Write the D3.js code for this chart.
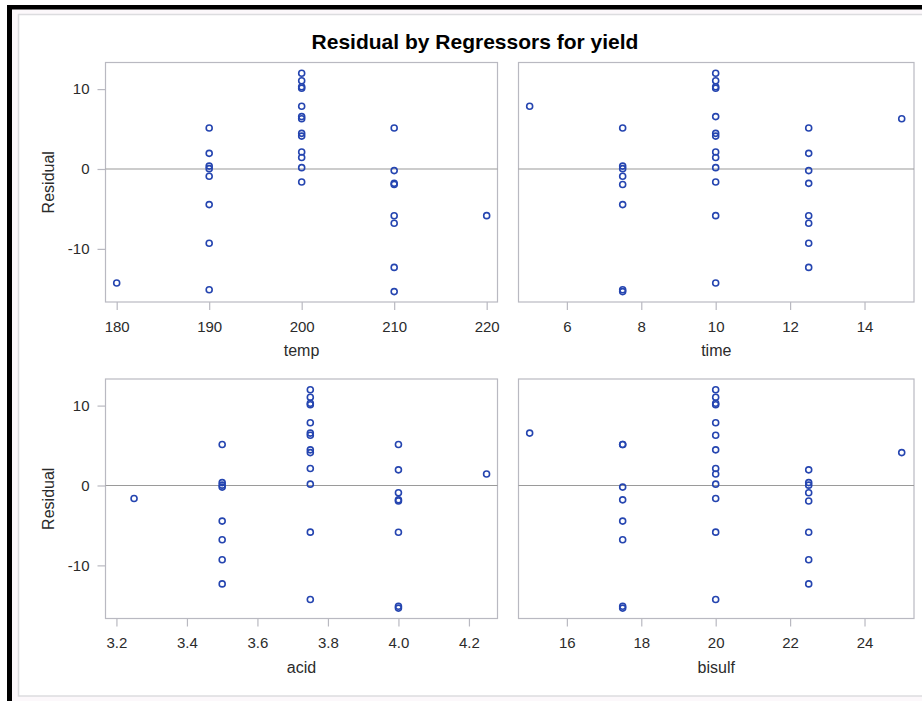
<!DOCTYPE html>
<html>
<head>
<meta charset="utf-8">
<script src="https://cdn.jsdelivr.net/npm/d3@7"></script>
<style>
  html, body { margin: 0; padding: 0; background: #fff; }
  svg { display: block; font-family: "Liberation Sans", Arial, sans-serif; }
</style>
</head>
<body>
<svg id="chart" width="922" height="701"></svg>
<script>
// ---- data: one entry per observation ----
const temp     = [200,200,200,200,200,200,200, 180,220,200,200,200,200,200,200,
                  190,210,190,190,190,210,190,210,210,190,210,210,190,210,190,210];
const time     = [10,10,10,10,10,10,10, 10,10,5,15,10,10,10,10,
                  12.5,7.5,12.5,7.5,7.5,12.5,7.5,12.5,7.5,7.5,12.5,12.5,12.5,12.5,7.5,7.5];
const acid     = [3.75,3.75,3.75,3.75,3.75,3.75,3.75, 3.75,3.75,3.75,3.75,3.25,4.25,3.75,3.75,
                  3.5,4.0,4.0,3.5,3.5,3.5,4.0,4.0,4.0,3.5,4.0,3.5,3.5,3.5,4.0,4.0];
const bisulf   = [20,20,20,20,20,20,20, 20,20,20,20,20,20,15,25,
                  17.5,17.5,22.5,22.5,22.5,17.5,22.5,17.5,22.5,17.5,22.5,17.5,22.5,22.5,17.5,17.5];
const residual = [11.98,11.05,10.3,10.1,4.46,2.13,0.17,
                  -14.27,-5.84,7.85,6.28,-1.63,1.43,6.56,4.12,
                  5.13,5.13,1.96,0.36,0.04,-0.2,-0.9,-1.8,-1.95,-4.46,-5.86,-6.8,-9.3,-12.32,-15.12,-15.35];

const titleText = "Residual by Regressors for yield";
const yLabel = "Residual";
const yTicks = [-10, 0, 10];
const yDomain = [-16.65, 13.33];

const regressorNames = ["temp", "time", "acid", "bisulf"];
const regressorValues = [temp, time, acid, bisulf];
const xDomains = [[178.79, 221.17], [4.70, 15.33], [3.169, 4.281], [14.70, 25.33]];
const xTicks = [[180,190,200,210,220], [6,8,10,12,14], [3.2,3.4,3.6,3.8,4.0,4.2], [16,18,20,22,24]];
const intFmt = v => String(v);
const xFormats = [intFmt, intFmt, v => v.toFixed(1), intFmt];

// ---- layout ----
const svg = d3.select("#chart");
const W = 922, H = 701;
const cols = [[105.5, 497.5], [518.5, 914]];
const rows = [[62.5, 302], [379, 618.5]];
const frameColor = "#b9b9c1";
const textColor = "#2b2b2b";
const markerColor = "#2545b0";

// background / outer decorations
svg.append("rect").attr("x", 0).attr("y", 0).attr("width", W).attr("height", H).attr("fill", "#fff");
svg.append("rect").attr("x", 12).attr("y", 9).attr("width", W - 12).attr("height", H - 9).attr("fill", "#fcf8fb");
svg.append("rect").attr("x", 18.5).attr("y", 14.5).attr("width", W).attr("height", 696 - 14.5)
   .attr("fill", "#fff").attr("stroke", "#dcdcdf").attr("stroke-width", 1.5);
svg.append("rect").attr("x", 7).attr("y", 5).attr("width", W - 7).attr("height", 4.5).attr("fill", "#000");
svg.append("rect").attr("x", 7).attr("y", 5).attr("width", 5).attr("height", H - 5).attr("fill", "#000");

// title
svg.append("text").attr("x", 475).attr("y", 49)
   .attr("text-anchor", "middle").attr("font-size", 21).attr("font-weight", "bold")
   .attr("fill", "#000").text(titleText);

regressorNames.forEach((name, i) => {
  const c = cols[i % 2], r = rows[Math.floor(i / 2)];
  const x = d3.scaleLinear().domain(xDomains[i]).range(c);
  const y = d3.scaleLinear().domain(yDomain).range([r[1], r[0]]);
  const g = svg.append("g");

  // frame
  g.append("rect").attr("x", c[0]).attr("y", r[0]).attr("width", c[1] - c[0]).attr("height", r[1] - r[0])
   .attr("fill", "#fff").attr("stroke", frameColor).attr("stroke-width", 1.2);

  // reference line at 0
  g.append("line").attr("x1", c[0]).attr("x2", c[1]).attr("y1", y(0)).attr("y2", y(0))
   .attr("stroke", "#9a9a9a").attr("stroke-width", 1.2);

  // x axis
  const xa = g.append("g").attr("transform", `translate(0,${r[1]})`)
    .call(d3.axisBottom(x).tickValues(xTicks[i]).tickFormat(xFormats[i]).tickSize(8).tickPadding(11).tickSizeOuter(0));
  xa.select(".domain").remove();
  xa.selectAll(".tick line").attr("stroke", frameColor).attr("stroke-width", 1.2);
  xa.selectAll(".tick text").attr("font-size", 15).attr("fill", textColor).attr("font-family", null);

  g.append("text").attr("x", (c[0] + c[1]) / 2).attr("y", r[1] + 54)
   .attr("text-anchor", "middle").attr("font-size", 16).attr("fill", textColor).text(name);

  // y axis only on left column
  if (i % 2 === 0) {
    const ya = g.append("g").attr("transform", `translate(${c[0]},0)`)
      .call(d3.axisLeft(y).tickValues(yTicks).tickFormat(v => String(v)).tickSize(8).tickPadding(8).tickSizeOuter(0));
    ya.select(".domain").remove();
    ya.selectAll(".tick line").attr("stroke", frameColor).attr("stroke-width", 1.2);
    ya.selectAll(".tick text").attr("font-size", 15).attr("fill", textColor).attr("font-family", null);

    g.append("text")
     .attr("transform", `translate(53.5,${(r[0] + r[1]) / 2}) rotate(-90)`)
     .attr("text-anchor", "middle").attr("font-size", 16).attr("fill", textColor).text(yLabel);
  }

  // points
  const vals = regressorValues[i];
  g.append("g").selectAll("circle").data(residual).join("circle")
    .attr("cx", (d, k) => x(vals[k]))
    .attr("cy", d => y(d))
    .attr("r", 3)
    .attr("fill", "none")
    .attr("stroke", markerColor)
    .attr("stroke-width", 1.6);
});
</script>
</body>
</html>
